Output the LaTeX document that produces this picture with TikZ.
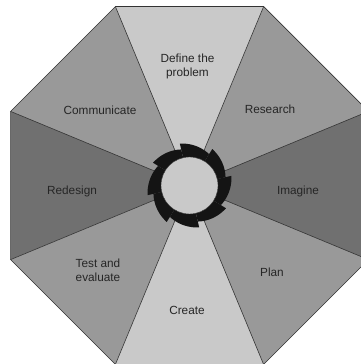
\documentclass[tikz,border=0pt]{standalone}
\usepackage{fontspec}
\setmainfont{Liberation Sans}

\begin{document}
\begin{tikzpicture}[x=1pt, y=1pt,
    lbl/.style={align=center, font=\fontsize{11.8}{14}\selectfont, text=black!85},
    light/.style={fill=black!21},
    mid/.style={fill=black!40},
    dark/.style={fill=black!56},
    edge/.style={draw=black!80, line width=0.6pt}]
    \useasboundingbox (0,0) rectangle (361,364);
    \clip (0,0) rectangle (361,364);

    % 八角形の頂点と中心
    \coordinate (ctr) at (189.5,178.5);
    \foreach \i in {0,...,7}
        \coordinate (v\i) at ([shift={(ctr)}] 22.5+45*\i:193.7);

    \fill[mid] (ctr) -- (v0) -- (v1) -- cycle;
    \fill[light] (ctr) -- (v1) -- (v2) -- cycle;
    \fill[mid] (ctr) -- (v2) -- (v3) -- cycle;
    \fill[dark] (ctr) -- (v3) -- (v4) -- cycle;
    \fill[mid] (ctr) -- (v4) -- (v5) -- cycle;
    \fill[light] (ctr) -- (v5) -- (v6) -- cycle;
    \fill[mid] (ctr) -- (v6) -- (v7) -- cycle;
    \fill[dark] (ctr) -- (v7) -- (v0) -- cycle;

    \foreach \i in {0,...,7}
        \draw[edge] (ctr) -- (v\i);
    \draw[edge] (v0) -- (v1) -- (v2) -- (v3) -- (v4) -- (v5) -- (v6) -- (v7) -- cycle;

    \foreach \a [evaluate=\a as \aend using \a+45] in {13,58,...,328}
        \fill[black!92, shift={(ctr)}] (0,0) -- plot[domain=\a:\aend, samples=12, variable=\t] (\t:{37+6*(\t-\a)/45}) -- cycle;
    \node[circle, draw=black!80, fill=black!21, minimum size=57pt, inner sep=0pt] (hub) at (ctr) {};

    \node[lbl] (define) at (187.5,298) {Define the\\problem};
    \node[lbl] (research) at (270,255) {Research};
    \node[lbl] (communicate) at (100,254) {Communicate};
    \node[lbl] (redesign) at (72,173) {Redesign};
    \node[lbl] (imagine) at (298,173) {Imagine};
    \node[lbl] (test) at (98,94) {Test and\\evaluate};
    \node[lbl] (plan) at (272,92) {Plan};
    \node[lbl] (create) at (187,54) {Create};

\end{tikzpicture}
\end{document}
